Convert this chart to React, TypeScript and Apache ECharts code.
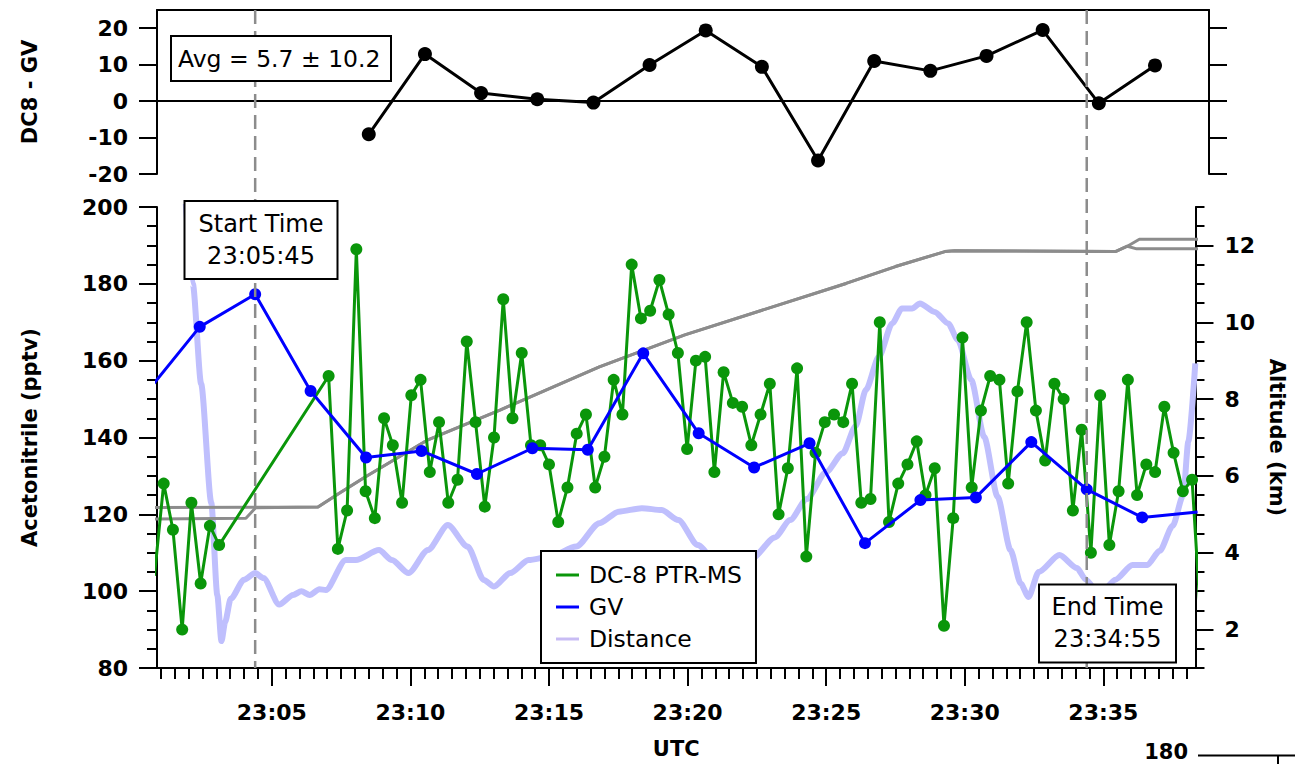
import React, { useEffect, useRef } from "react";
import * as echarts from "echarts";

const FONT = "DejaVu Sans";

// ---- tick labels ----
const xTickLabels = ["23:05", "23:10", "23:15", "23:20", "23:25", "23:30", "23:35"];
const rightTicks = [2, 4, 6, 8, 10, 12];
const topTicks = [-20, -10, 0, 10, 20];

// ---- DC-8 PTR-MS acetonitrile (pptv) ----
const dc8Times = [
  "23:00:46", "23:01:06", "23:01:26", "23:01:46", "23:02:06", "23:02:26", "23:02:46", "23:03:06",
  "23:07:03", "23:07:23", "23:07:43", "23:08:03", "23:08:23", "23:08:43", "23:09:03", "23:09:22", "23:09:42", "23:10:02",
  "23:10:22", "23:10:42", "23:11:02", "23:11:22", "23:11:42", "23:12:02", "23:12:21", "23:12:41", "23:13:01", "23:13:21",
  "23:13:41", "23:14:01", "23:14:21", "23:14:41", "23:15:00", "23:15:20", "23:15:40", "23:16:00", "23:16:20", "23:16:40",
  "23:17:00", "23:17:20", "23:17:39", "23:17:59", "23:18:19", "23:18:39", "23:18:59", "23:19:19", "23:19:39", "23:19:59",
  "23:20:18", "23:20:38", "23:20:58", "23:21:18", "23:21:38", "23:21:58", "23:22:18", "23:22:38", "23:22:58", "23:23:17",
  "23:23:37", "23:23:57", "23:24:17", "23:24:37", "23:24:57", "23:25:17", "23:25:37", "23:25:56", "23:26:16", "23:26:36",
  "23:26:56", "23:27:16", "23:27:36", "23:27:56", "23:28:16", "23:28:35", "23:28:55", "23:29:15", "23:29:35", "23:29:55",
  "23:30:15", "23:30:35", "23:30:55", "23:31:15", "23:31:34", "23:31:54", "23:32:14", "23:32:34", "23:32:54", "23:33:14",
  "23:33:34", "23:33:54", "23:34:13", "23:34:33", "23:34:53", "23:35:13", "23:35:33", "23:35:53", "23:36:13", "23:36:33",
  "23:36:52", "23:37:12", "23:37:32", "23:37:52", "23:38:12", "23:38:32",
];
const dc8Values = [
  104, 128, 116, 90, 123, 102, 117, 112,
  156, 111, 121, 189, 126, 119, 145, 138, 123, 151,
  155, 131, 144, 123, 129, 165, 144, 122, 140, 176,
  145, 162, 138, 138, 133, 118, 127, 141, 146, 127,
  135, 155, 146, 185, 171, 173, 181, 172, 162, 137,
  160, 161, 131, 157, 149, 148, 138, 146, 154, 120,
  132, 158, 109, 136, 144, 146, 144, 154, 123, 124,
  170, 118, 128, 133, 139, 125, 132, 91, 119, 166,
  127, 147, 156, 155, 128, 152, 170, 147, 134, 154,
  150, 121, 142, 110, 151, 112, 126, 155, 125, 133,
  131, 148, 136, 126, 129, 90,
];

// ---- GV acetonitrile (pptv) ----
const gvTimes = [
  "23:00:24", "23:02:24", "23:04:24", "23:06:24", "23:08:24", "23:10:24", "23:12:24", "23:14:24", "23:16:24", "23:18:24",
  "23:20:24", "23:22:24", "23:24:24", "23:26:24", "23:28:24", "23:30:24", "23:32:24", "23:34:24", "23:36:24", "23:38:24",
];
const gvValues = [
  151, 168.8, 177.3, 152.1, 134.8, 136.5, 130.5, 137.2, 136.8, 161.9,
  141.1, 132.2, 138.5, 112.5, 123.7, 124.4, 138.8, 126.5, 119.2, 120.6,
];

// ---- DC8 - GV difference ----
const diffTimes = [
  "23:08:24", "23:10:24", "23:12:24", "23:14:24", "23:16:24", "23:18:24", "23:20:24", "23:22:24",
  "23:24:24", "23:26:24", "23:28:24", "23:30:24", "23:32:24", "23:34:24", "23:36:24",
];
const diffValues = [-9.1, 12.9, 2.2, 0.5, -0.4, 9.9, 19.4, 9.4, -16.3, 11.0, 8.3, 12.4, 19.5, -0.6, 9.8];
const avgLabel = "Avg = 5.7 ± 10.2";

// ---- Altitudes (km) ----
const altATimes = [
  "23:00:40", "23:06:40", "23:07:26", "23:08:23", "23:10:38", "23:13:15", "23:16:49", "23:19:54",
  "23:25:43", "23:27:30", "23:29:17", "23:29:38", "23:35:26", "23:35:52", "23:36:18", "23:38:30",
];
const altAValues = [5.18, 5.19, 5.55, 5.98, 6.94, 7.72, 8.84, 9.67, 11.01, 11.45, 11.84, 11.86, 11.84, 11.98, 12.16, 12.16];
const altBTimes = [
  "23:00:40", "23:04:04", "23:04:25", "23:06:40", "23:07:26", "23:08:23", "23:10:38", "23:13:15", "23:16:49", "23:19:54",
  "23:25:43", "23:27:30", "23:29:17", "23:29:38", "23:35:26", "23:35:52", "23:36:12", "23:38:30",
];
const altBValues = [4.88, 4.9, 5.17, 5.19, 5.55, 5.98, 6.94, 7.72, 8.84, 9.67, 11.01, 11.45, 11.84, 11.86, 11.84, 11.98, 11.91, 11.91];

// ---- Distance between aircraft (km) ----
const distTimes = [
  "23:01:51", "23:02:09", "23:02:27", "23:02:49", "23:03:02", "23:03:11", "23:03:19", "23:03:31", "23:04:00", "23:04:24",
  "23:04:42", "23:05:16", "23:05:46", "23:06:04", "23:06:22", "23:06:43", "23:06:57", "23:07:40", "23:08:02", "23:08:52",
  "23:09:20", "23:09:56", "23:10:38", "23:11:21", "23:12:04", "23:12:39", "23:13:01", "23:13:36", "23:14:16", "23:15:02",
  "23:15:59", "23:16:49", "23:17:31", "23:18:21", "23:19:04", "23:19:40", "23:20:22", "23:21:16", "23:22:20", "23:23:09",
  "23:23:42", "23:24:18", "23:25:00", "23:25:36", "23:26:04", "23:26:26", "23:26:54", "23:27:23", "23:27:44", "23:28:06",
  "23:28:23", "23:28:55", "23:29:24", "23:29:45", "23:30:14", "23:30:42", "23:31:11", "23:31:39", "23:32:01", "23:32:18",
  "23:32:40", "23:33:25", "23:34:03", "23:34:22", "23:34:52", "23:35:26", "23:36:03", "23:36:35", "23:37:02", "23:37:30",
  "23:37:53", "23:38:04", "23:38:19",
];
const distValues = [
  13.6, 11.0, 8.4, 5.3, 2.9, 1.7, 2.2, 2.8, 3.3, 3.47,
  3.34, 2.65, 2.9, 3.0, 2.9, 3.05, 3.03, 3.81, 3.81, 4.07,
  3.81, 3.47, 4.07, 4.72, 4.16, 3.29, 3.12, 3.47, 3.81, 3.9,
  4.16, 4.77, 5.07, 5.16, 5.11, 4.85, 4.2, 3.5, 3.86, 4.4,
  4.85, 5.4, 6.1, 6.59, 7.3, 8.24, 9.1, 9.97, 10.36, 10.36,
  10.49, 10.27, 9.97, 9.54, 8.5, 7.02, 5.46, 4.07, 3.2, 2.85,
  3.5, 3.94, 3.6, 3.3, 2.9, 3.3, 3.68, 3.68, 4.05, 4.7,
  5.5, 6.9, 8.93,
];

const startLineTime = "23:04:24";
const endLineTime = "23:34:24";
const startLabel = "Start Time\n23:05:45";
const endLabel = "End Time\n23:34:55";
const cutLabel = "180";

function toMin(t: string): number {
  const p = t.split(":").map(Number);
  return (p[0] - 23) * 60 + p[1] + (p[2] || 0) / 60;
}
function pairs(ts: string[], vs: number[]) {
  return ts.map((t, i) => [toMin(t), vs[i]]);
}

const X_MIN = toMin("23:00:51.5");
const X_MAX = toMin("23:38:19.4");

const xMajor = xTickLabels.map(toMin);
const xMinor: number[] = [];
for (let v = 1; v <= 38; v += 0.5) xMinor.push(v);
const altMinor: number[] = [];
for (let v = 1; v <= 13; v += 0.5) altMinor.push(v);

const tickLabelStyle = { fontFamily: FONT, fontWeight: "bold" as const, fontSize: 22, color: "#000" };
const nameStyle = { fontFamily: FONT, fontWeight: "bold" as const, fontSize: 21, color: "#000" };
const axisLine = { show: true, onZero: false, lineStyle: { color: "#000", width: 2 } };

function fmtTime(v: number) {
  const m = Math.round(v);
  return "23:" + String(m).padStart(2, "0");
}

const option: any = {
  animation: false,
  backgroundColor: "#fff",
  grid: [
    { left: 157, top: 10, width: 1052, height: 164 },
    { left: 157, top: 207, width: 1052, height: 461 },
  ],
  legend: {
    data: ["DC-8 PTR-MS", "GV", "Distance"],
    orient: "vertical",
    left: 541,
    top: 551,
    icon: "rect",
    itemWidth: 23,
    itemHeight: 3,
    itemGap: 2,
    padding: [9, 14, 9, 15],
    backgroundColor: "#fff",
    borderColor: "#000",
    borderWidth: 2,
    borderRadius: 0,
    itemStyle: { borderWidth: 0 },
    z: 10,
    textStyle: { fontFamily: FONT, fontSize: 23.5, color: "#000", lineHeight: 30, padding: [0, 0, 0, 5] },
  },
  xAxis: [
    {
      gridIndex: 0, type: "value", min: X_MIN, max: X_MAX, position: "top",
      axisLine, axisTick: { show: false }, axisLabel: { show: false }, splitLine: { show: false },
    },
    {
      gridIndex: 1, type: "value", min: X_MIN, max: X_MAX, position: "bottom",
      axisLine,
      axisTick: { show: true, customValues: xMajor, length: 18, lineStyle: { color: "#000", width: 2 } },
      axisLabel: { show: true, customValues: xMajor, formatter: fmtTime, margin: 33, ...tickLabelStyle },
      splitLine: { show: false },
      name: "UTC", nameLocation: "middle", nameGap: 70, nameTextStyle: nameStyle,
    },
    {
      gridIndex: 1, type: "value", min: X_MIN, max: X_MAX, position: "bottom",
      axisLine: { show: false },
      axisTick: { show: true, customValues: xMinor, length: 11, lineStyle: { color: "#000", width: 2 } },
      axisLabel: { show: false }, splitLine: { show: false },
    },
  ],
  yAxis: [
    {
      gridIndex: 0, type: "value", min: -20, max: 25, position: "left",
      axisLine,
      axisTick: { show: true, customValues: topTicks, length: 18, lineStyle: { color: "#000", width: 2 } },
      axisLabel: { show: true, customValues: topTicks, margin: 29, ...tickLabelStyle },
      splitLine: { show: false },
      name: "DC8 - GV", nameLocation: "middle", nameRotate: 90, nameGap: 117, nameTextStyle: nameStyle,
    },
    {
      gridIndex: 0, type: "value", min: -20, max: 25, position: "right",
      axisLine,
      axisTick: { show: true, customValues: topTicks, length: 18, lineStyle: { color: "#000", width: 2 } },
      axisLabel: { show: false }, splitLine: { show: false },
    },
    {
      gridIndex: 1, type: "value", min: 80, max: 200, interval: 20, position: "left",
      axisLine,
      axisTick: { show: true, length: 18, lineStyle: { color: "#000", width: 2 } },
      minorTick: { show: true, splitNumber: 4, length: 10, lineStyle: { color: "#000", width: 2 } },
      axisLabel: { show: true, margin: 29, ...tickLabelStyle },
      splitLine: { show: false }, minorSplitLine: { show: false },
      name: "Acetonitrile (pptv)", nameLocation: "middle", nameRotate: 90, nameGap: 117, nameTextStyle: nameStyle,
    },
    {
      gridIndex: 1, type: "value", min: 1, max: 13, position: "right",
      axisLine,
      axisTick: { show: true, customValues: rightTicks, length: 18, lineStyle: { color: "#000", width: 2 } },
      axisLabel: { show: true, customValues: rightTicks, margin: 29, ...tickLabelStyle },
      splitLine: { show: false },
      name: "Altitude (km)", nameLocation: "middle", nameRotate: -90, nameGap: 57, nameTextStyle: nameStyle,
    },
    {
      gridIndex: 1, type: "value", min: 1, max: 13, position: "right",
      axisLine: { show: false },
      axisTick: { show: true, customValues: altMinor, length: 9, lineStyle: { color: "#000", width: 2 } },
      axisLabel: { show: false }, splitLine: { show: false },
    },
  ],
  series: [
    // legend key for the distance trace (thin line, as in the original key)
    {
      name: "Distance", type: "line", xAxisIndex: 1, yAxisIndex: 3, data: [], showSymbol: false,
      lineStyle: { color: "#c8bcf4", width: 3 }, itemStyle: { color: "#c8bcf4" },
    },
    {
      name: "Distance", type: "line", xAxisIndex: 1, yAxisIndex: 3,
      data: pairs(distTimes, distValues), showSymbol: false, smooth: 0.25, smoothMonotone: "x",
      lineStyle: { color: "#bfbffd", width: 6 }, itemStyle: { color: "#bfbffd" }, z: 1,
    },
    {
      name: "DC-8 altitude", type: "line", xAxisIndex: 1, yAxisIndex: 3,
      data: pairs(altATimes, altAValues), showSymbol: false,
      lineStyle: { color: "#8c8c8c", width: 3 }, itemStyle: { color: "#8c8c8c" }, z: 2,
    },
    {
      name: "GV altitude", type: "line", xAxisIndex: 1, yAxisIndex: 3,
      data: pairs(altBTimes, altBValues), showSymbol: false,
      lineStyle: { color: "#8c8c8c", width: 3 }, itemStyle: { color: "#8c8c8c" }, z: 2,
    },
    {
      name: "DC-8 PTR-MS", type: "line", xAxisIndex: 1, yAxisIndex: 2,
      data: pairs(dc8Times, dc8Values), symbol: "circle", symbolSize: 12, showSymbol: true,
      lineStyle: { color: "#0a960a", width: 3 }, itemStyle: { color: "#0a960a" }, z: 3,
    },
    {
      name: "GV", type: "line", xAxisIndex: 1, yAxisIndex: 2,
      data: pairs(gvTimes, gvValues), symbol: "circle", symbolSize: 12, showSymbol: true,
      lineStyle: { color: "#0000ff", width: 3 }, itemStyle: { color: "#0000ff" }, z: 4,
    },
    {
      name: "DC8 - GV", type: "line", xAxisIndex: 0, yAxisIndex: 0,
      data: pairs(diffTimes, diffValues), symbol: "circle", symbolSize: 14, showSymbol: true,
      lineStyle: { color: "#000", width: 3 }, itemStyle: { color: "#000" }, z: 4,
      markLine: {
        silent: true, symbol: ["none", "none"], label: { show: false },
        lineStyle: { color: "#000", width: 2, type: "solid" },
        data: [{ yAxis: 0 }],
      },
    },
  ],
};

function textStyle(text: string, size: number, weight = "normal", align = "center") {
  return {
    text,
    font: `${weight} ${size}px "${FONT}"`,
    fill: "#000",
    align,
    textAlign: align,
    verticalAlign: "middle",
    textVerticalAlign: "middle",
    lineHeight: 32,
  };
}

export default function App() {
  const ref = useRef<HTMLDivElement>(null);
  useEffect(() => {
    document.body.style.margin = "0";
    document.body.style.overflow = "hidden";
    const chart = echarts.init(ref.current!, null, { renderer: "svg" });
    chart.setOption(option);

    const xs = chart.convertToPixel({ xAxisIndex: 1 }, toMin(startLineTime)) as number;
    const xe = chart.convertToPixel({ xAxisIndex: 1 }, toMin(endLineTime)) as number;
    const yTop = chart.convertToPixel({ yAxisIndex: 0 }, 25) as number;
    const yBot = chart.convertToPixel({ yAxisIndex: 2 }, 80) as number;
    const dash = { stroke: "#8c8c8c", lineWidth: 2.5, lineDash: [14, 7] };

    chart.setOption({
      graphic: [
        { type: "line", z: 15, silent: true, shape: { x1: xs, y1: yTop, x2: xs, y2: yBot }, style: dash },
        { type: "line", z: 15, silent: true, shape: { x1: xe, y1: yTop, x2: xe, y2: yBot }, style: dash },
        { type: "rect", z: 20, shape: { x: 171, y: 36, width: 220, height: 45 }, style: { fill: "#fff", stroke: "#000", lineWidth: 2 } },
        { type: "text", z: 21, x: 178, y: 58.5, style: textStyle(avgLabel, 23.5, "normal", "left") },
        { type: "rect", z: 20, shape: { x: 184.5, y: 201, width: 153, height: 78 }, style: { fill: "#fff", stroke: "#000", lineWidth: 2 } },
        { type: "text", z: 21, x: 261, y: 239.5, style: textStyle(startLabel, 24) },
        { type: "rect", z: 20, shape: { x: 1039, y: 584.5, width: 137, height: 78 }, style: { fill: "#fff", stroke: "#000", lineWidth: 2 } },
        { type: "text", z: 21, x: 1107.5, y: 622.5, style: textStyle(endLabel, 24) },
        { type: "text", z: 21, x: 1188, y: 752, style: textStyle(cutLabel, 21, "bold", "right") },
        { type: "line", z: 21, shape: { x1: 1198, y1: 755.5, x2: 1295, y2: 755.5 }, style: { stroke: "#000", lineWidth: 2 } },
        { type: "line", z: 21, shape: { x1: 1278, y1: 755.5, x2: 1278, y2: 764 }, style: { stroke: "#000", lineWidth: 2 } },
      ],
    });
    return () => chart.dispose();
  }, []);
  return <div ref={ref} style={{ width: 1295, height: 764 }} />;
}
